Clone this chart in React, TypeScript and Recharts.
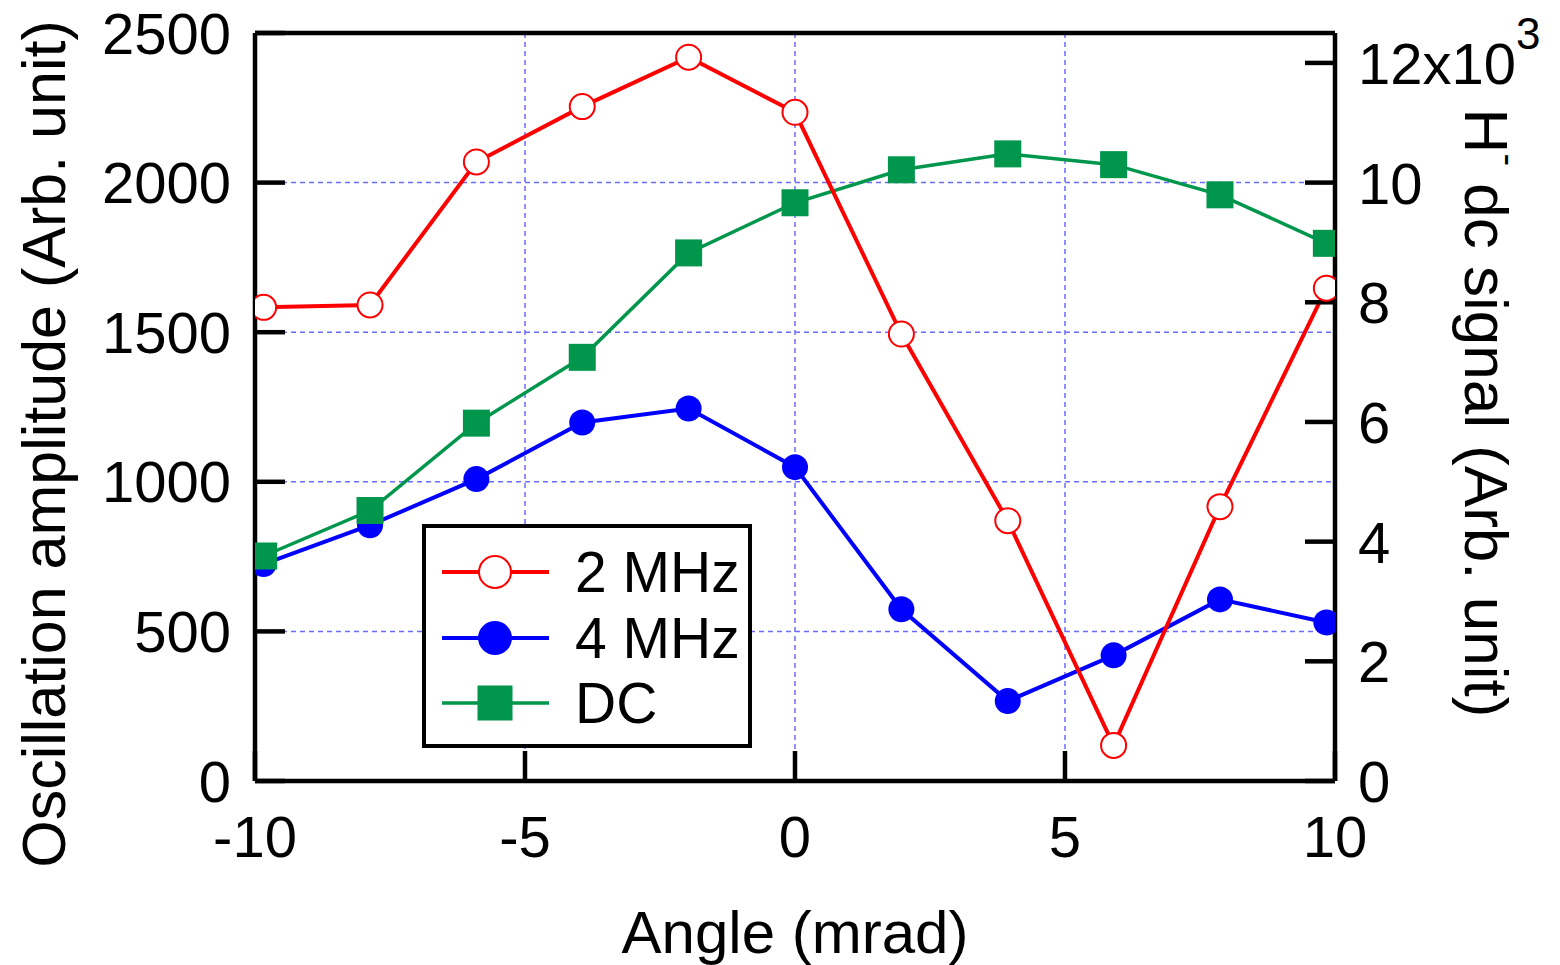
import React from 'react';
import { ComposedChart, Line, XAxis, YAxis, CartesianGrid, Legend } from 'recharts';

// ---- data ----
const angles = [-9.84, -7.87, -5.9, -3.94, -1.97, 0, 1.97, 3.94, 5.9, 7.87, 9.84];
const amp2MHz = [1583, 1591, 2069, 2254, 2419, 2235, 1494, 870, 119, 917, 1647];
const amp4MHz = [725, 855, 1009, 1198, 1245, 1049, 574, 267, 420, 607, 530];
const dcSignal = [3760, 4520, 5980, 7080, 8825, 9663, 10214, 10480, 10300, 9796, 8985];

const xTicks = [-10, -5, 0, 5, 10];
const leftTicks = [0, 500, 1000, 1500, 2000, 2500];
const rightTicks = [0, 2000, 4000, 6000, 8000, 10000, 12000];

const seriesNames = ['2 MHz', '4 MHz', 'DC'];

const FONT = '"Liberation Sans", Arial, Helvetica, sans-serif';
const RED = '#FF0000';
const BLUE = '#0000FF';
const GREEN = '#00964B';
const GRID = '#6b6bff';
const FS = 58;

const data = angles.map((a, i) => ({ angle: a, mhz2: amp2MHz[i], mhz4: amp4MHz[i], dc: dcSignal[i] }));

const RedDot = (p: any) =>
  p.cx == null ? <g key={p.index} /> : (
    <circle key={p.index} cx={p.cx} cy={p.cy} r={12.5} fill="#fff" stroke={RED} strokeWidth={2} />
  );
const BlueDot = (p: any) =>
  p.cx == null ? <g key={p.index} /> : <circle key={p.index} cx={p.cx} cy={p.cy} r={13} fill={BLUE} stroke="none" />;
const GreenDot = (p: any) =>
  p.cx == null ? <g key={p.index} /> : (
    <rect key={p.index} x={p.cx - 13.5} y={p.cy - 13.5} width={27} height={27} fill={GREEN} stroke="none" />
  );

const RightTick = (p: any) => {
  const v = p.payload.value;
  if (v === 12000) {
    return (
      <text x={p.x} y={p.y} dy={21} fontSize={FS} fontFamily={FONT} fill="#000" textAnchor="start">
        12x10
        <tspan dy={-35} fontSize={44}>3</tspan>
      </text>
    );
  }
  return (
    <text x={p.x} y={p.y} dy={21} fontSize={FS} fontFamily={FONT} fill="#000" textAnchor="start">
      {String(v / 1000)}
    </text>
  );
};

const LegendBox = () => {
  const rows = [
    { y: 48, color: RED, w: 4, kind: 'open' },
    { y: 114, color: BLUE, w: 4, kind: 'fill' },
    { y: 179, color: GREEN, w: 3.5, kind: 'square' },
  ];
  return (
    <svg width={330} height={224} style={{ display: 'block' }}>
      <rect x={2} y={2} width={326} height={220} fill="#fff" stroke="#000" strokeWidth={4} />
      {rows.map((r, i) => (
        <g key={i}>
          <line x1={20} x2={127} y1={r.y} y2={r.y} stroke={r.color} strokeWidth={r.w} />
          {r.kind === 'open' && <circle cx={73} cy={r.y} r={16} fill="#fff" stroke={r.color} strokeWidth={2} />}
          {r.kind === 'fill' && <circle cx={73} cy={r.y} r={17} fill={r.color} />}
          {r.kind === 'square' && <rect x={55.5} y={r.y - 17.5} width={35} height={35} fill={r.color} />}
          <text x={153} y={r.y} dy={20} fontSize={57} fontFamily={FONT} fill="#000">
            {seriesNames[i]}
          </text>
        </g>
      ))}
    </svg>
  );
};

const axisLine = { stroke: '#000', strokeWidth: 4.5 };
const tickLine = { stroke: '#000', strokeWidth: 4.5 };
const tickStyle = { fontSize: FS, fill: '#000', fontFamily: FONT };

export default function App() {
  return (
    <div style={{ position: 'absolute', left: 0, top: 0, width: 1560, height: 965, background: '#fff' }}>
      <ComposedChart width={1560} height={965} data={data} margin={{ top: 0, right: 0, bottom: 0, left: 0 }}>
        <CartesianGrid
          xAxisId="bottom"
          yAxisId="left"
          stroke={GRID}
          strokeDasharray="5 4"
          strokeWidth={1.5}
        />
        <XAxis
          xAxisId="bottom"
          dataKey="angle"
          type="number"
          domain={[-10, 10]}
          ticks={xTicks}
          allowDataOverflow
          height={184}
          axisLine={axisLine}
          tickLine={tickLine}
          tickSize={-30}
          tickMargin={65}
          tick={tickStyle}
          interval={0}
          label={() => (
            <text x={795} y={953} textAnchor="middle" fontSize={60} fontFamily={FONT} fill="#000">
              Angle (mrad)
            </text>
          )}
        />
        <XAxis
          xAxisId="top"
          orientation="top"
          dataKey="angle"
          type="number"
          domain={[-10, 10]}
          ticks={xTicks}
          allowDataOverflow
          height={33}
          axisLine={axisLine}
          tickLine={tickLine}
          tickSize={-30}
          tick={false}
          interval={0}
        />
        <YAxis
          yAxisId="left"
          type="number"
          domain={[0, 2500]}
          ticks={leftTicks}
          allowDataOverflow
          width={255}
          axisLine={axisLine}
          tickLine={tickLine}
          tickSize={-30}
          tickMargin={54}
          tick={tickStyle}
          interval={0}
          label={() => (
            <text
              x={65}
              y={444}
              transform="rotate(-90, 65, 444)"
              textAnchor="middle"
              fontSize={61}
              fontFamily={FONT}
              fill="#000"
            >
              Oscillation amplitude (Arb. unit)
            </text>
          )}
        />
        <YAxis
          yAxisId="right"
          orientation="right"
          type="number"
          domain={[0, 12500]}
          ticks={rightTicks}
          allowDataOverflow
          width={225}
          axisLine={axisLine}
          tickLine={tickLine}
          tickSize={-30}
          tickMargin={53}
          tick={RightTick}
          interval={0}
          label={() => (
            <text
              x={1465}
              y={413}
              transform="rotate(90, 1465, 413)"
              textAnchor="middle"
              fontSize={62}
              fontFamily={FONT}
              fill="#000"
            >
              H
              <tspan dy={-31} fontSize={38}>-</tspan>
              <tspan dy={31}> dc signal (Arb. unit)</tspan>
            </text>
          )}
        />
        <Line
          xAxisId="bottom"
          yAxisId="left"
          dataKey="mhz4"
          name="4 MHz"
          stroke={BLUE}
          strokeWidth={4}
          dot={BlueDot}
          activeDot={false}
          isAnimationActive={false}
        />
        <Line
          xAxisId="bottom"
          yAxisId="right"
          dataKey="dc"
          name="DC"
          stroke={GREEN}
          strokeWidth={3.5}
          dot={GreenDot}
          activeDot={false}
          isAnimationActive={false}
        />
        <Line
          xAxisId="bottom"
          yAxisId="left"
          dataKey="mhz2"
          name="2 MHz"
          stroke={RED}
          strokeWidth={4}
          dot={RedDot}
          activeDot={false}
          isAnimationActive={false}
        />
        <Legend
          layout="horizontal"
          verticalAlign="middle"
          align="center"
          wrapperStyle={{ position: 'absolute', left: 422, top: 524, width: 330, height: 224 }}
          content={() => <LegendBox />}
        />
      </ComposedChart>
    </div>
  );
}
